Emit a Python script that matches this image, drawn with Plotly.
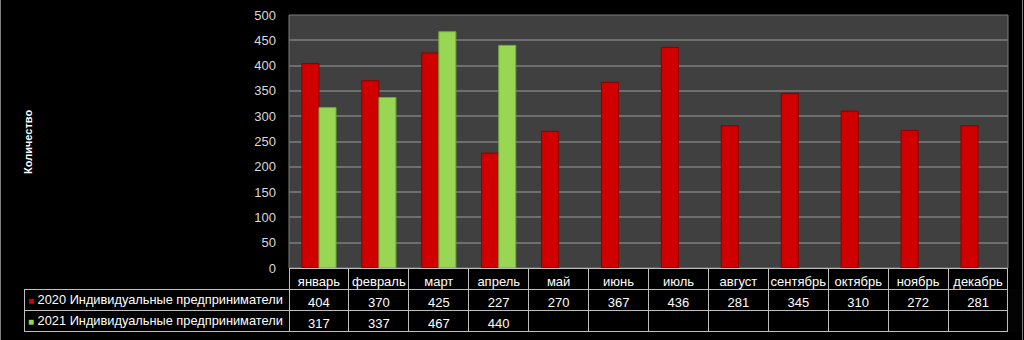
import plotly.graph_objects as go

W, H = 1024, 340

months = ["январь", "февраль", "март", "апрель", "май", "июнь", "июль",
          "август", "сентябрь", "октябрь", "ноябрь", "декабрь"]
vals_2020 = [404, 370, 425, 227, 270, 367, 436, 281, 345, 310, 272, 281]
vals_2021 = [317, 337, 467, 440, None, None, None, None, None, None, None, None]
name_2020 = "2020 Индивидуальные предприниматели"
name_2021 = "2021 Индивидуальные предприниматели"
y_title = "Количество"
y_ticks = [0, 50, 100, 150, 200, 250, 300, 350, 400, 450, 500]

RED = "#D00000"
GREEN = "#98D653"
FONT = "Liberation Sans"

# pixel geometry
px_left, px_right = 289, 1008
px_top, px_bottom = 15, 268
tbl_left, tbl_bottom = 24, 332
row_h = 21

fig = go.Figure()
fig.add_trace(go.Bar(x=months, y=vals_2020, name=name_2020,
                     marker=dict(color=RED, line=dict(color="#8a0000", width=1))))
fig.add_trace(go.Bar(x=months, y=vals_2021, name=name_2021,
                     marker=dict(color=GREEN, line=dict(color="#6fa83a", width=1))))

def fmt(v):
    return "" if v is None else str(v)

col_vals = [["", ""]]
for a, b in zip(vals_2020, vals_2021):
    col_vals.append([fmt(a), fmt(b)])

hdr_line = ["rgba(0,0,0,0)"] + ["#bfbfbf"] * len(months)
hdr_fill = ["rgba(0,0,0,0)"] + ["black"] * len(months)
fig.add_trace(go.Table(
    domain=dict(x=[tbl_left / W, px_right / W], y=[1 - tbl_bottom / H, 1 - px_bottom / H]),
    columnwidth=[px_left - tbl_left] + [(px_right - px_left) / 12] * 12,
    header=dict(values=[""] + months, fill_color=hdr_fill,
                line=dict(color=hdr_line, width=1),
                font=dict(color="white", size=13, family=FONT),
                align="center", height=row_h),
    cells=dict(values=col_vals, fill_color="black",
               line=dict(color="#bfbfbf", width=1),
               font=dict(color="white", size=13, family=FONT),
               align="center", height=row_h),
))

legend_rows = [(name_2020, RED), (name_2021, GREEN)]
annotations = [dict(text=f"<b>{y_title}</b>", textangle=-90, xref="paper", yref="paper",
                    x=28 / W, y=1 - 142 / H, xanchor="center", yanchor="middle",
                    showarrow=False, font=dict(color="white", size=11, family=FONT))]
for i, (nm, col) in enumerate(legend_rows):
    yc = px_bottom + row_h * (i + 1) + row_h / 2
    annotations.append(dict(
        text=f"<span style='color:{col};font-size:10px'>■</span> {nm}",
        xref="paper", yref="paper", x=(tbl_left + 2) / W, y=1 - yc / H,
        xanchor="left", yanchor="middle", showarrow=False,
        font=dict(color="white", size=12.8, family=FONT)))

fig.update_layout(
    width=W, height=H,
    margin=dict(l=0, r=0, t=0, b=0, pad=0),
    paper_bgcolor="black",
    plot_bgcolor="#404040",
    showlegend=False,
    barmode="group",
    bargap=0.43,
    bargroupgap=0.0,
    xaxis=dict(domain=[px_left / W, px_right / W], showticklabels=False, automargin=False,
               showgrid=False, zeroline=False, showline=False, ticks=""),
    yaxis=dict(domain=[1 - px_bottom / H, 1 - px_top / H], range=[0, 500],
               autorange=False, automargin=False,
               tickvals=y_ticks, showgrid=True, gridcolor="#6e6e6e", gridwidth=2,
               zeroline=False, showline=False, ticks="", ticklen=0,
               ticklabelstandoff=12,
               tickfont=dict(color="#d9d9d9", size=13, family=FONT)),
    annotations=annotations,
    shapes=[
        dict(type="line", xref="paper", yref="paper", x0=0.5 / W, x1=0.5 / W, y0=0, y1=1,
             line=dict(color="#808080", width=1)),
        dict(type="line", xref="paper", yref="paper", x0=1022.5 / W, x1=1022.5 / W, y0=0, y1=1,
             line=dict(color="#808080", width=1)),
        dict(type="rect", xref="paper", yref="paper", x0=px_left / W, x1=px_right / W,
             y0=1 - px_bottom / H, y1=1 - px_top / H, line=dict(color="#7a7a7a", width=1),
             layer="below"),
    ],
)

fig.write_html("out.html")
